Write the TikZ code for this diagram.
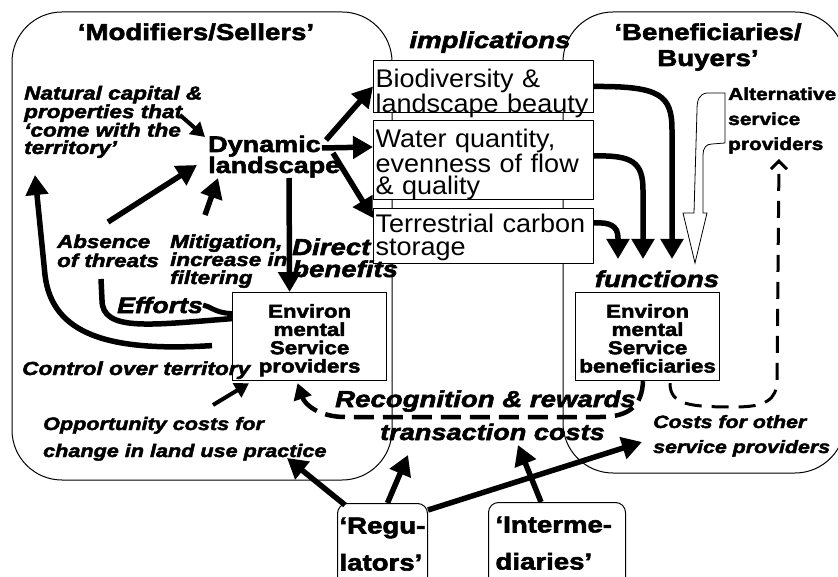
\documentclass[tikz,border=0pt]{standalone}
\usepackage{fontspec}
\setmainfont{Liberation Sans}[
  UprightFeatures={FakeStretch=1.06},
  BoldFeatures={FakeStretch=1.2,FakeBold=2.5},
  BoldItalicFeatures={FakeStretch=1.2,FakeBold=2.5}]
\usetikzlibrary{arrows.meta,calc}
\newcommand{\fsz}[2]{\fontsize{#1}{#2}\selectfont}

\tikzset{
  lbl/.style 2 args={font=\bfseries\itshape\fsz{#1}{#2}, align=left, anchor=base west, inner sep=0pt},
  hd/.style 2 args={font=\bfseries\fsz{#1}{#2}, align=center, anchor=base, inner sep=0pt},
  ibox/.style={draw, fill=white, line width=1pt, anchor=north west, text width=216pt, align=left, inner xsep=2pt, inner ysep=0pt},
  sbox/.style={draw, fill=white, line width=1.2pt, anchor=north west, align=center, inner xsep=2pt, inner ysep=0pt, font=\bfseries\fsz{18.6}{18.3}},
  rbox/.style={draw, fill=white, line width=1pt, rounded corners=10pt, anchor=north west, align=left, inner ysep=0pt, font=\bfseries\fsz{23}{37}},
  fat/.style={line width=5.5pt, -{Triangle[length=20pt,width=22pt]}},
  slim/.style={line width=4pt, -{Triangle[length=14pt,width=16pt]}},
  dashfat/.style={line width=4.5pt, dash pattern=on 20pt off 9pt, -{Triangle[length=16pt,width=18pt]}},
  dashslim/.style={line width=3pt, dash pattern=on 17pt off 10pt, -{Straight Barb[length=8pt,width=16pt]}}
}

\begin{document}
\begin{tikzpicture}[x=1pt,y=-1pt]
    \useasboundingbox (0,0) rectangle (838,577);
    \clip (0,0) rectangle (838,577);

    % the two groups
    \draw[line width=1pt, rounded corners=50pt] (12,12) rectangle (392,480);
    \draw[line width=1pt, rounded corners=50pt] (563,12) rectangle (845,473);

    % implications
    \node[ibox, text height=27pt, text depth=25pt, font=\fsz{25.5}{21}] (bio) at (373,60) {Biodiversity \&\\landscape beauty};
    \node[ibox, text height=27pt, text depth=52pt, font=\fsz{25.5}{22.5}] (water) at (373,120) {Water quantity,\\evenness of flow\\\& quality};
    \node[ibox, text height=24pt, text depth=31pt, font=\fsz{25.5}{23}] (carbon) at (373,208) {Terrestrial carbon\\storage};

    % service boxes
    \node[sbox, text width=150pt, text height=25pt, text depth=63pt] (provider) at (232,292) {Environ\\mental\\Service\\providers};
    \node[sbox, text width=140pt, text height=25pt, text depth=63pt] (benef) at (575,292) {Environ\\mental\\Service\\beneficiaries};

    \node[rbox, text width=86pt, inner xsep=2pt, text height=30pt, text depth=60pt] (regul) at (337,503) {‘Regu-\\lators’};
    \node[rbox, text width=123pt, inner xsep=7pt, text height=30pt, text depth=60pt] (interm) at (488,502) {‘Interme-\\diaries’};

    % labels (anchored on their last line)
    \node[hd={23}{26}] (sellers) at (196,40) {‘Modifiers/Sellers’};
    \node[hd={23}{26}] (buyers) at (708,66) {‘Beneficiaries/\\Buyers’};
    \node[lbl={23}{26}, anchor=base] (impl) at (490,48) {implications};
    \node[lbl={18.8}{17.4}] (natural) at (24,154) {Natural capital \&\\properties that\\‘come with the\\territory’};
    \node[hd={22.5}{21}, align=left, anchor=base west] (dyn) at (208,173) {Dynamic\\landscape};
    \node[lbl={18.6}{19}] (absence) at (57,267) {Absence\\of threats};
    \node[lbl={18.7}{18}] (mitig) at (170,284) {Mitigation,\\increase in\\filtering};
    \node[lbl={23}{22}] (direct) at (292,277) {Direct\\benefits};
    \node[lbl={22.3}{22}] (efforts) at (117,313) {Efforts};
    \node[lbl={18.9}{19}] (control) at (22,375) {Control over territory};
    \node[lbl={18}{27}] (opport) at (43,457) {Opportunity costs for\\change in land use practice};
    \node[lbl={23}{23}] (recog) at (335,407) {Recognition \& rewards};
    \node[lbl={22.6}{23}] (transact) at (380,440) {transaction costs};
    \node[lbl={17.8}{25}] (othercost) at (653,453) {Costs for other\\service providers};
    \node[lbl={23}{23}, anchor=base] (functions) at (657,287) {functions};
    \node[hd={17.4}{25}, align=left, anchor=base west] (altern) at (728,150) {Alternative\\service\\providers};

    % free ends
    \coordinate (dynA) at (326,140);
    \coordinate (dynB) at (322,148);
    \coordinate (dynC) at (333,153);
    \coordinate (dynD) at (289,178);
    \coordinate (natA) at (180,115);
    \coordinate (dynN) at (205,137);
    \coordinate (absA) at (108,222);
    \coordinate (dynS) at (197,165);
    \coordinate (mitA) at (205,215);
    \coordinate (dynM) at (218,178);
    \coordinate (thrA) at (101,279);
    \coordinate (terA) at (35,175);
    \coordinate (oppA) at (213,405);
    \coordinate (oppB) at (287,458);
    \coordinate (traA) at (408,455);
    \coordinate (traB) at (518,445);
    \coordinate (othA) at (642,442);
    \coordinate (fnA) at (672,259);
    \coordinate (fnB) at (643,259);
    \coordinate (fnC) at (618,259);
    \coordinate (altA) at (779,159);

    % landscape to implications
    \draw[fat] (dynA) -- (bio.west);
    \draw[fat] (dynB) -- ($(water.north west)+(0,27)$);
    \draw[fat] (dynC) -- ($(carbon.north west)+(0,10)$);
    \draw[fat] (dynD) -- ($(provider.north)+(-20,0)$);

    \draw[slim] (natA) -- (dynN);
    \draw[fat] (absA) -- (dynS);
    \draw[fat] (mitA) -- (dynM);

    % efforts and control
    \draw[line width=5.5pt] ($(provider.west)+(0,-18)$) .. controls (150,325) and (102,332) .. (102,300) -- (thrA);
    \draw[line width=5pt] ($(provider.west)+(0,-23)$) .. controls (215,313) and (210,306) .. (efforts.east);
    \draw[fat] ($(provider.west)+(-20,9)$) .. controls (110,352) and (52,335) .. (45,275) -- (terA);
    \draw[slim] (oppA) -- ($(provider.south west)+(17,2)$);

    % regulators, intermediaries
    \draw[fat] ($(regul.north west)+(8,2)$) -- (oppB);
    \draw[fat] ($(regul.north)+(5,0)$) -- (traA);
    \draw[fat] ($(regul.north east)+(0,7)$) -- (othA);
    \draw[fat] ($(interm.north)+(-16,0)$) -- (traB);

    % implications to functions
    \draw[fat] (bio.east) .. controls (660,86) and (672,95) .. (672,130) -- (fnA);
    \draw[fat] ($(water.east)+(0,-4)$) .. controls (632,155) and (643,162) .. (643,190) -- (fnB);
    \draw[fat] ($(carbon.east)+(0,-13)$) .. controls (610,222) and (618,226) .. (618,238) -- (fnC);

    % rewards and other providers
    \draw[dashfat] ($(benef.south west)+(68,0)$) .. controls (642,405) and (630,417) .. (600,417) -- (345,417) .. controls (320,417) and (305,405) .. ($(provider.south)+(-12,2)$);
    \draw[dashslim] ($(benef.south west)+(95,2)$) .. controls (670,405) and (690,407) .. (735,407) .. controls (765,407) and (777,400) .. (777,380) -- (altA);

    % alternative providers
    \draw[line width=0.8pt, fill=white] (725,93) -- (707,93) .. controls (699,94) and (697,100) .. (697,110) -- (694,213) -- (683,213) -- (695,263) -- (707,213) -- (703,213) -- (703,155) .. controls (703,148) and (706,144) .. (712,144) -- (725,143) -- cycle;
\end{tikzpicture}
\end{document}
